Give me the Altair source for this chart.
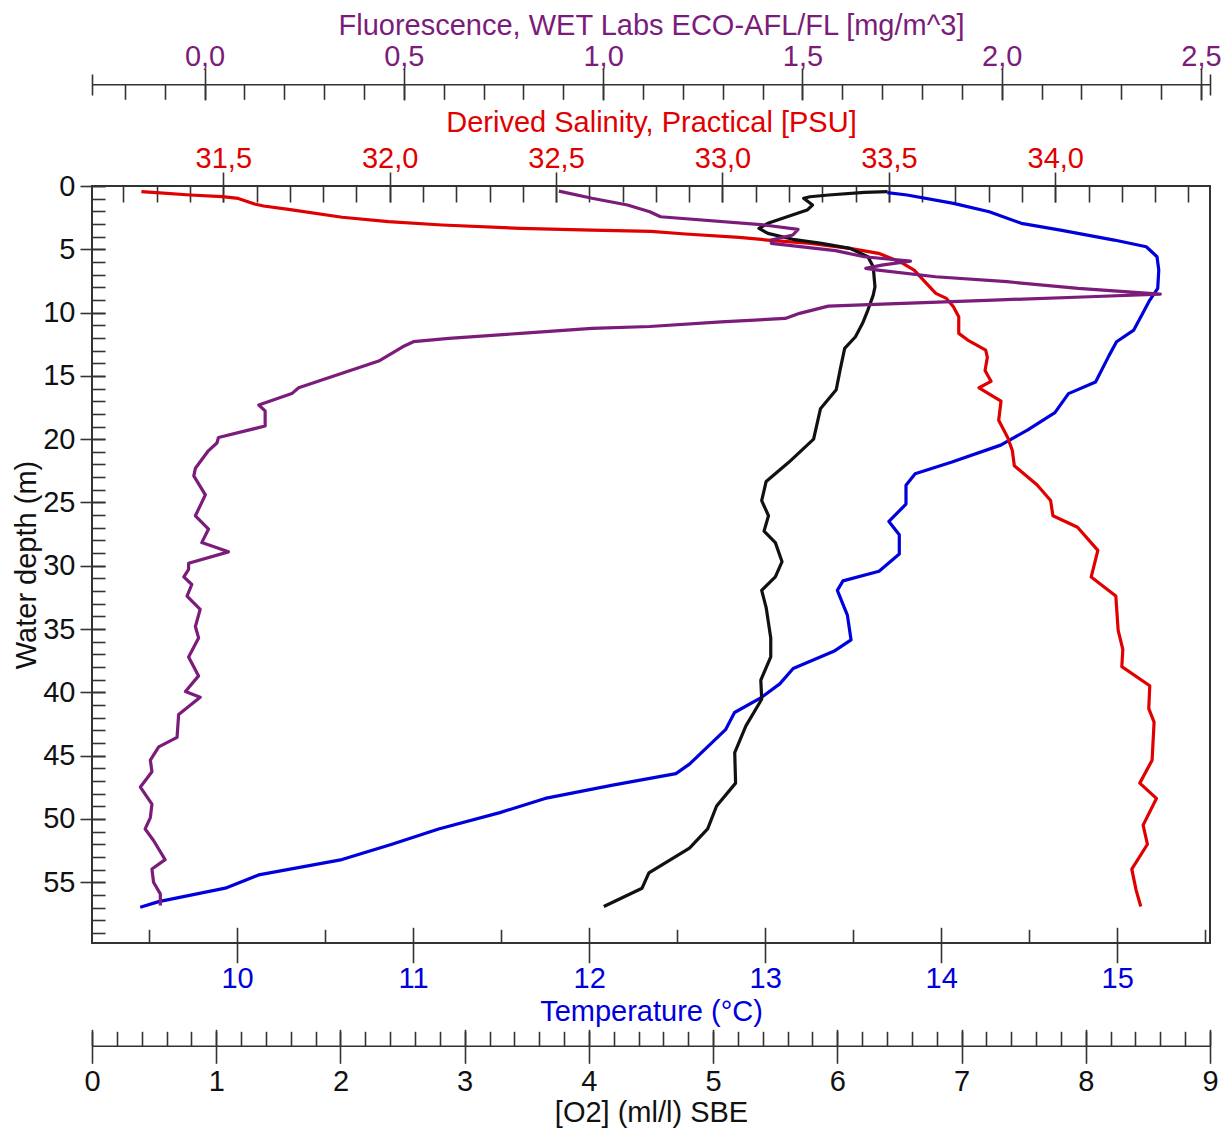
import altair as alt
import pandas as pd

FONT = "Liberation Sans, Arial, Helvetica, sans-serif"
FS = 29
BLUE = "#0000dc"
RED = "#e00000"
PURPLE = "#7b1c7b"
BLACK = "#111111"
AXC = "#333333"

# ---------------- data ----------------
temp_depth = [0.53, 0.71, 1.37, 2.03, 2.95, 3.48, 4.27, 4.80, 5.59, 6.64, 8.09, 9.01, 10.06, 11.38,
              12.3, 13.38, 15.49, 16.4, 17.9, 19.26, 20.47, 21.83, 22.73, 23.64, 25.13, 26.5, 27.55,
              29.07, 30.43, 31.19, 31.94, 33.9, 35.86, 36.76, 38.12, 39.33, 40.39, 41.59, 42.95,
              45.67, 46.42, 47.33, 48.38, 49.5, 50.79, 52.0, 53.21, 54.42, 55.47, 56.53, 56.98]
temp_vals = [13.694, 13.806, 14.070, 14.273, 14.455, 14.678, 14.983, 15.165, 15.226, 15.236, 15.230,
             15.185, 15.145, 15.094, 14.996, 14.954, 14.877, 14.723, 14.646, 14.492, 14.338, 14.057,
             13.852, 13.800, 13.800, 13.703, 13.762, 13.762, 13.647, 13.442, 13.410, 13.467, 13.488,
             13.390, 13.159, 13.083, 12.980, 12.826, 12.775, 12.570, 12.493, 12.134, 11.750, 11.493,
             11.145, 10.880, 10.596, 10.123, 9.933, 9.555, 9.450]

sal_depth = [0.45, 0.53, 0.71, 0.84, 0.98, 1.42, 1.58, 1.84, 2.47, 2.82, 3.08, 3.35, 3.48, 3.58, 3.79,
             4.06, 4.27, 4.53, 4.93, 5.32, 5.98, 6.64, 7.56, 8.48, 8.88, 9.54, 10.33, 11.64, 12.17,
             12.96, 13.53, 14.58, 15.43, 15.94, 17.0, 18.5, 19.87, 20.9, 22.1, 23.6, 24.85, 26.05,
             26.96, 28.78, 30.88, 32.39, 35.1, 36.6, 37.97, 39.48, 41.29, 42.35, 45.36, 47.17, 48.38,
             50.49, 52.0, 53.96, 55.62, 56.92]
sal_vals = [31.254, 31.299, 31.400, 31.497, 31.545, 31.594, 31.621, 31.696, 31.857, 31.996, 32.157,
            32.393, 32.608, 32.785, 32.889, 33.050, 33.136, 33.265, 33.383, 33.469, 33.533, 33.576,
            33.608, 33.641, 33.673, 33.694, 33.710, 33.710, 33.737, 33.791, 33.796, 33.789, 33.807,
            33.771, 33.837, 33.830, 33.857, 33.871, 33.877, 33.945, 33.986, 33.993, 34.067, 34.128,
            34.108, 34.182, 34.189, 34.203, 34.200, 34.284, 34.281, 34.297, 34.291, 34.254, 34.304,
            34.264, 34.277, 34.230, 34.243, 34.257]

o2_depth = [0.45, 0.5, 0.71, 0.85, 0.97, 1.5, 1.9, 2.95, 3.35, 3.74, 4.21, 4.53, 4.93, 5.59, 6.38,
            7.96, 8.62, 9.8, 10.85, 11.91, 12.83, 14.55, 16.1, 17.6, 20.0, 21.83, 23.34, 24.85,
            26.05, 27.26, 28.17, 29.68, 30.88, 31.94, 33.3, 35.7, 37.2, 39.03, 40.54, 42.65, 44.76,
            47.17, 48.98, 50.79, 52.3, 54.26, 55.47, 56.92]
o2_vals = [6.404, 6.217, 5.930, 5.780, 5.729, 5.800, 5.757, 5.441, 5.369, 5.441, 5.642, 5.872, 6.102,
           6.246, 6.289, 6.303, 6.289, 6.246, 6.203, 6.146, 6.059, 6.022, 5.991, 5.864, 5.809, 5.609,
           5.427, 5.391, 5.446, 5.410, 5.501, 5.555, 5.501, 5.391, 5.427, 5.464, 5.464, 5.384, 5.391,
           5.264, 5.174, 5.181, 5.028, 4.956, 4.810, 4.483, 4.428, 4.120]

fl_depth = [0.40, 0.97, 1.5, 2.03, 2.43, 3.08, 3.43, 3.87, 4.27, 4.53, 5.11, 5.59, 5.93, 6.25, 6.51,
            6.64, 7.17, 7.56, 8.09, 8.54, 8.75, 9.01, 9.33, 9.49, 10.06, 10.46, 10.73, 11.1, 11.25,
            11.64, 12.04, 12.3, 12.7, 13.83, 15.94, 16.4, 17.3, 17.76, 18.96, 19.87, 20.3, 20.9,
            22.3, 22.9, 24.4, 26.05, 27.1, 28.17, 28.9, 29.8, 30.28, 30.88, 31.48, 32.39, 33.45,
            34.8, 35.7, 37.2, 38.7, 39.93, 40.39, 41.74, 43.55, 44.31, 45.36, 46.27, 47.48, 48.83,
            49.89, 50.79, 51.7, 53.21, 53.96, 55.0, 55.92, 56.83]
fl_vals = [0.889, 0.972, 1.061, 1.117, 1.144, 1.404, 1.489, 1.476, 1.422, 1.422, 1.583, 1.655, 1.771,
           1.699, 1.659, 1.690, 1.834, 2.013, 2.192, 2.398, 2.22, 1.98, 1.70, 1.565, 1.493, 1.457,
           1.296, 1.117, 0.972, 0.793, 0.613, 0.524, 0.497, 0.437, 0.236, 0.219, 0.136, 0.152, 0.152,
           0.035, 0.031, 0.010, -0.023, -0.027, 0.002, -0.023, 0.010, -0.007, 0.060, -0.040, -0.040,
           -0.052, -0.032, -0.044, -0.011, -0.023, -0.015, -0.040, -0.015, -0.048, -0.011, -0.065,
           -0.069, -0.115, -0.136, -0.132, -0.161, -0.132, -0.136, -0.149, -0.128, -0.099, -0.132,
           -0.128, -0.111, -0.111]

# tick values
depth_major = [0, 5, 10, 15, 20, 25, 30, 35, 40, 45, 50, 55]
depth_minor = list(range(0, 60))
temp_major = [10, 11, 12, 13, 14, 15]
temp_minor = [9.5, 10.5, 11.5, 12.5, 13.5, 14.5, 15.5]
sal_major = [31.5, 32.0, 32.5, 33.0, 33.5, 34.0]
sal_minor = [round(31.1 + 0.1 * k, 1) for k in range(34)]
fl_major = [0.0, 0.5, 1.0, 1.5, 2.0, 2.5]
fl_minor = [round(-0.2 + 0.1 * k, 1) for k in range(28)]
o2_major = [0, 1, 2, 3, 4, 5, 6, 7, 8, 9]
o2_minor = [round(0.2 * k, 1) for k in range(46)]

DEPTH_DOMAIN = [0, 59.8]
T_DOMAIN = [9.176, 15.527]
S_DOMAIN = [31.1055, 34.465]
F_DOMAIN = [-0.2824, 2.5226]
O_DOMAIN = [0, 9]
fl_ends = [-0.2822, 2.5224]

W, H = 1118, 757


def frame(d, v):
    return pd.DataFrame({"depth": d, "value": v, "i": list(range(len(d)))})


dfT = frame(temp_depth, temp_vals)
dfS = frame(sal_depth, sal_vals)
dfO = frame(o2_depth, o2_vals)
dfF = frame(fl_depth, fl_vals)

COMMA = "replace(format(datum.value, '.1f'), '.', ',')"


def ax(**kw):
    base = dict(grid=False, labelFont=FONT, labelFontSize=FS, titleFont=FONT, titleFontSize=FS,
                titleFontWeight="normal", tickColor=AXC, tickWidth=1.6, domainColor=AXC,
                domainWidth=1.6, labelFlush=False, labelOverlap=False, labelBound=False)
    base.update(kw)
    return alt.Axis(**base)


def ysc():
    return alt.Scale(domain=DEPTH_DOMAIN, reverse=True, nice=False, zero=False)


def xsc(dom):
    return alt.Scale(domain=dom, nice=False, zero=False)


def layer(df, dom, xaxis, yaxis=None, color=None, visible=True):
    if visible:
        m = alt.Chart(df).mark_line(color=color, strokeWidth=3.2, strokeJoin="round")
    else:
        m = alt.Chart(df).mark_line(strokeOpacity=0)
    return m.encode(
        x=alt.X("value:Q", scale=xsc(dom), axis=xaxis),
        y=alt.Y("depth:Q", scale=ysc(), axis=yaxis),
        order=alt.Order("i:Q"),
    )


# axes
depth_major_ax = ax(orient="left", offset=-13, tickSize=25, domain=False, values=depth_major,
                    labelPadding=5, labelColor=BLACK, title="Water depth (m)", titleColor=BLACK,
                    titleX=-70, titleBaseline="alphabetic")
depth_minor_ax = ax(orient="left", offset=-13, tickSize=13, domain=False, labels=False,
                    values=depth_minor, title=None)

temp_major_ax = ax(orient="bottom", offset=-15.7, tickSize=35.4, domain=False, values=temp_major,
                   format="d", labelPadding=24.6, labelBaseline="alphabetic", labelColor=BLUE,
                   title="Temperature (°C)", titleColor=BLUE, titleY=93.2,
                   titleBaseline="alphabetic")
temp_minor_ax = ax(orient="bottom", offset=-13.7, tickSize=13.7, domain=False, labels=False,
                   values=temp_minor, title=None)

sal_major_ax = ax(orient="top", offset=-16, tickSize=30, domain=False, values=sal_major,
                  labelExpr=COMMA, labelPadding=5, labelBaseline="alphabetic", labelColor=RED,
                  title="Derived Salinity, Practical [PSU]", titleColor=RED, titleY=-70.5,
                  titleBaseline="alphabetic")
sal_minor_ax = ax(orient="top", offset=-16, tickSize=16, domain=False, labels=False,
                  values=sal_minor, title=None)

fl_major_ax = ax(orient="top", offset=86, tickSize=31.7, domain=False, values=fl_major,
                 labelExpr=COMMA, labelPadding=3.3, labelBaseline="alphabetic", labelColor=PURPLE,
                 title="Fluorescence, WET Labs ECO-AFL/FL [mg/m^3]", titleColor=PURPLE,
                 titleY=-66, titleBaseline="alphabetic")
fl_minor_ax = ax(orient="top", offset=86.7, tickSize=15, domain=False, labels=False,
                 values=fl_minor, title=None)
fl_domain_ax = ax(orient="top", offset=101.7, ticks=False, labels=False, domain=True, title=None)
fl_ends_ax = ax(orient="top", offset=91, tickSize=21, domain=False, labels=False,
                values=fl_ends, title=None)

o2_major_ax = ax(orient="bottom", offset=86.3, tickSize=34, domain=False, values=o2_major,
                 format="d", labelPadding=26.7, labelBaseline="alphabetic", labelColor=BLACK,
                 title="[O2] (ml/l) SBE", titleColor=BLACK, titleY=91.7,
                 titleBaseline="alphabetic")
o2_minor_ax = ax(orient="bottom", offset=88.3, tickSize=14.4, domain=False, labels=False,
                 values=o2_minor, title=None)
o2_domain_ax = ax(orient="bottom", offset=102.7, ticks=False, labels=False, domain=True, title=None)

layers = [
    layer(dfT, T_DOMAIN, temp_major_ax, depth_major_ax, BLUE),
    layer(dfS, S_DOMAIN, sal_major_ax, depth_minor_ax, RED),
    layer(dfO, O_DOMAIN, o2_major_ax, None, BLACK),
    layer(dfF, F_DOMAIN, fl_major_ax, None, PURPLE),
    layer(dfT, T_DOMAIN, temp_minor_ax, visible=False),
    layer(dfS, S_DOMAIN, sal_minor_ax, visible=False),
    layer(dfF, F_DOMAIN, fl_minor_ax, visible=False),
    layer(dfF, F_DOMAIN, fl_domain_ax, visible=False),
    layer(dfF, F_DOMAIN, fl_ends_ax, visible=False),
    layer(dfO, O_DOMAIN, o2_minor_ax, visible=False),
    layer(dfO, O_DOMAIN, o2_domain_ax, visible=False),
]

chart = (
    alt.layer(*layers)
    .resolve_scale(x="independent", y="independent")
    .properties(
        width=W, height=H,
        autosize=alt.AutoSizeParams(type="none"),
        padding={"left": 92, "top": 186, "right": 20, "bottom": 190},
        background="white",
    )
    .configure_view(stroke=AXC, strokeWidth=2)
)

chart.save("out.html", embed_options={"renderer": "svg", "actions": False})
